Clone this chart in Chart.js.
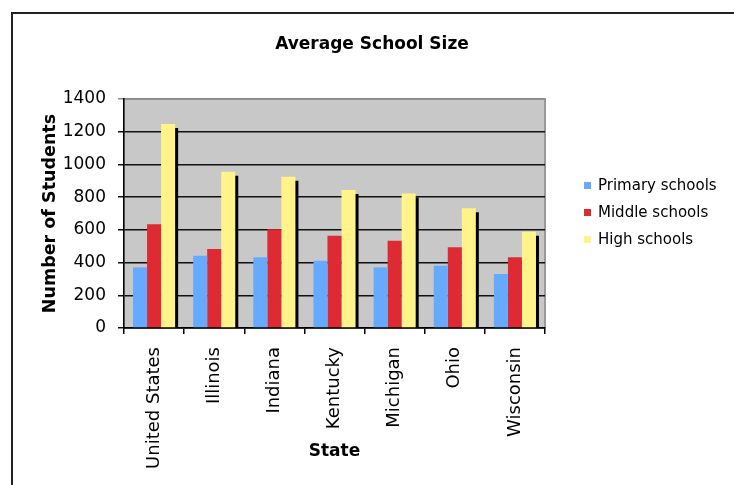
<!DOCTYPE html>
<html>
<head>
<meta charset="utf-8">
<script src="https://cdn.jsdelivr.net/npm/chart.js@4.4.0/dist/chart.umd.min.js"></script>
<style>
    html, body { margin: 0; padding: 0; background: #fff; overflow: hidden; }
    #wrap { position: relative; width: 734px; height: 485px; }
    #frame { position: absolute; left: 11px; top: 12px; width: 740px; height: 500px; border-top: 2px solid #222; border-left: 2px solid #222; }
    #schoolChart { position: absolute; left: 0; top: 0; }
</style>
</head>
<body>
<div id="wrap">
    <div id="frame"></div>
    <canvas id="schoolChart" width="734" height="485"></canvas>
</div>
<script>
const states = ['United States', 'Illinois', 'Indiana', 'Kentucky', 'Michigan', 'Ohio', 'Wisconsin'];
const seriesNames = ['Primary schools', 'Middle schools', 'High schools'];
const primarySizes = [371, 442, 432, 411, 371, 381, 330];
const middleSizes = [634, 483, 603, 564, 534, 493, 432];
const highSizes = [1247, 956, 925, 844, 823, 732, 589];
const yTicks = [0, 200, 400, 600, 800, 1000, 1200, 1400];
const chartTitle = 'Average School Size';

const seriesColors = ['#66aaff', '#dd2a33', '#fff38a'];

// grey plot area with a thin border
const plotBackground = {
    id: 'plotBackground',
    beforeDraw(chart) {
        const { ctx, chartArea: a } = chart;
        ctx.save();
        ctx.fillStyle = '#c8c8c8';
        ctx.fillRect(a.left, a.top, a.right - a.left, a.bottom - a.top);
        ctx.strokeStyle = '#9a9a9a';
        ctx.lineWidth = 2;
        ctx.strokeRect(a.left, a.top, a.right - a.left, a.bottom - a.top);
        ctx.restore();
    }
};

// black drop shadow behind the high school bars
const barShadow = {
    id: 'barShadow',
    beforeDatasetDraw(chart, args) {
        if (args.index !== 2) return;
        const ctx = chart.ctx;
        ctx.save();
        ctx.shadowColor = '#000';
        ctx.shadowOffsetX = 3;
        ctx.shadowOffsetY = 4;
        ctx.shadowBlur = 0;
    },
    afterDatasetDraw(chart, args) {
        if (args.index !== 2) return;
        chart.ctx.restore();
    }
};

// title centred on the whole frame, legend on the right
const titleAndLegend = {
    id: 'titleAndLegend',
    afterDraw(chart) {
        const ctx = chart.ctx;
        ctx.save();
        ctx.fillStyle = '#000';
        ctx.textAlign = 'center';
        ctx.textBaseline = 'middle';
        ctx.font = 'bold 17px "DejaVu Sans"';
        ctx.fillText(chartTitle, 372, 45);

        ctx.textAlign = 'left';
        ctx.font = '15px "DejaVu Sans"';
        chart.data.datasets.forEach((ds, i) => {
            const y = 186 + i * 27;
            ctx.fillStyle = ds.backgroundColor;
            ctx.fillRect(584, y - 4, 7, 7);
            ctx.fillStyle = '#000';
            ctx.fillText(ds.label, 598, y);
        });
        ctx.restore();
    }
};

const ctx = document.getElementById('schoolChart').getContext('2d');
const schoolChart = new Chart(ctx, {
    type: 'bar',
    data: {
        labels: states,
        datasets: [primarySizes, middleSizes, highSizes].map((vals, i) => ({
            label: seriesNames[i],
            data: vals,
            backgroundColor: seriesColors[i],
            borderWidth: 0,
            barPercentage: 1,
            categoryPercentage: 0.7
        }))
    },
    options: {
        responsive: false,
        animation: false,
        layout: { padding: { left: 0, right: 189, top: 99, bottom: 0 } },
        plugins: {
            legend: { display: false },
            tooltip: { enabled: false },
            title: { display: false }
        },
        scales: {
            x: {
                offset: true,
                grid: { offset: true, drawOnChartArea: false, drawTicks: true, tickLength: 6, color: '#000', lineWidth: 1.5 },
                border: { display: true, color: '#000', width: 1.5 },
                ticks: { minRotation: 90, maxRotation: 90, color: '#000', padding: 13, font: { family: '"DejaVu Sans"', size: 18 } },
                title: { display: true, text: 'State', color: '#000', font: { family: '"DejaVu Sans"', size: 17, weight: 'bold' }, padding: { bottom: 23 } },
                afterFit: s => { s.height = 157; }
            },
            y: {
                min: 0,
                max: 1400,
                afterBuildTicks: s => { s.ticks = yTicks.map(v => ({ value: v })); },
                grid: {
                    color: c => (c.tick && c.tick.value === 1400 ? '#8a8a8a' : '#111'),
                    lineWidth: 1.5,
                    drawTicks: true,
                    tickLength: 6
                },
                border: { display: true, color: '#000', width: 1.5 },
                ticks: { color: '#000', padding: 12, font: { family: '"DejaVu Sans"', size: 17 }, callback: v => String(v) },
                title: { display: true, text: 'Number of Students', color: '#000', font: { family: '"DejaVu Sans"', size: 17.5, weight: 'bold' }, padding: { top: 40 } },
                afterFit: s => { s.width = 124; }
            }
        }
    },
    plugins: [plotBackground, barShadow, titleAndLegend]
});
</script>
</body>
</html>
